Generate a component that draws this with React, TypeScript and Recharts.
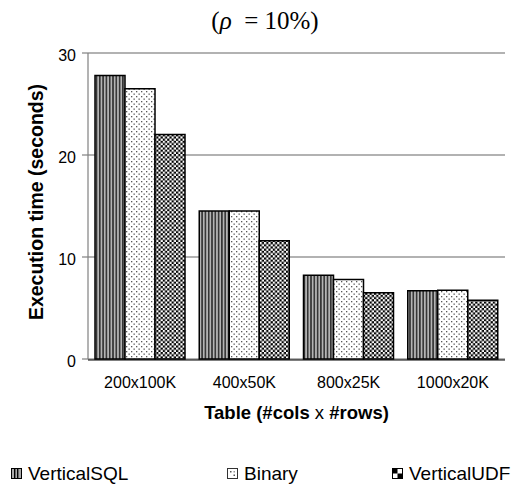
import React from 'react';
import { BarChart, Bar, XAxis, YAxis, CartesianGrid } from 'recharts';

const categories = ['200x100K', '400x50K', '800x25K', '1000x20K'];
const verticalSQL = [27.8, 14.5, 8.2, 6.7];
const binary = [26.5, 14.5, 7.8, 6.75];
const verticalUDF = [22.0, 11.6, 6.5, 5.75];
const yTicks = [0, 10, 20, 30];
const edgeTicks = [0, 1, 2, 3, 4];
const seriesNames = ['VerticalSQL', 'Binary', 'VerticalUDF'];

const data = categories.map((name, i) => ({
  name,
  edge: i,
  VerticalSQL: verticalSQL[i],
  Binary: binary[i],
  VerticalUDF: verticalUDF[i],
}));

const SANS = '"Liberation Sans", Arial, sans-serif';
const SERIF = '"Liberation Serif", "Times New Roman", serif';

const fills: Record<string, string> = {
  VerticalSQL: 'url(#pStripes)',
  Binary: 'url(#pDots)',
  VerticalUDF: 'url(#pChecker)',
};

const Patterns = ({ prefix }: { prefix: string }) => (
  <defs>
    <pattern id={`${prefix}Stripes`} patternUnits="userSpaceOnUse" width="3.3" height="10">
      <rect x="0" y="0" width="3.3" height="10" fill="#b4b4b4" />
      <rect x="0" y="0" width="1.6" height="10" fill="#333" />
    </pattern>
    <pattern id={`${prefix}Dots`} patternUnits="userSpaceOnUse" width="5" height="5">
      <rect x="0" y="0" width="5" height="5" fill="#fff" />
      <rect x="1" y="1" width="1.3" height="1.3" fill="#555" />
      <rect x="3.5" y="3.5" width="1.3" height="1.3" fill="#555" />
    </pattern>
    <pattern id={`${prefix}Checker`} patternUnits="userSpaceOnUse" width="4.4" height="4.4">
      <rect x="0" y="0" width="4.4" height="4.4" fill="#000" />
      <rect x="0" y="0" width="2.2" height="2.2" fill="#fff" />
      <rect x="2.2" y="2.2" width="2.2" height="2.2" fill="#fff" />
    </pattern>
  </defs>
);

const LegendIcon = ({ name }: { name: string }) => {
  if (name === 'VerticalSQL') {
    return (
      <svg width="11" height="11" style={{ display: 'block' }}>
        <rect x="0.5" y="0.5" width="10" height="10" fill="#aaa" stroke="#000" />
        <rect x="3" y="0.5" width="1.4" height="10" fill="#000" />
        <rect x="6" y="0.5" width="1.4" height="10" fill="#000" />
      </svg>
    );
  }
  if (name === 'Binary') {
    return (
      <svg width="11" height="11" style={{ display: 'block' }}>
        <rect x="0.5" y="0.5" width="10" height="10" fill="#fff" stroke="#333" />
        <rect x="3" y="3" width="1.5" height="1.5" fill="#555" />
        <rect x="6.5" y="6.5" width="1.5" height="1.5" fill="#555" />
        <rect x="6.5" y="3" width="1.5" height="1.5" fill="#999" />
      </svg>
    );
  }
  return (
    <svg width="11" height="11" style={{ display: 'block' }}>
      <rect x="0.5" y="0.5" width="10" height="10" fill="#fff" stroke="#000" />
      <rect x="0.5" y="0.5" width="5" height="5" fill="#000" />
      <rect x="5.5" y="5.5" width="5" height="5" fill="#000" />
    </svg>
  );
};

const legendLeft = [11, 227, 392];

const YLabel = (props: any) => {
  const vb = props.viewBox;
  const cx = vb.x + 36;
  const cy = vb.y + vb.height / 2 - 4;
  return (
    <text
      x={cx}
      y={cy}
      transform={`rotate(-90, ${cx}, ${cy})`}
      textAnchor="middle"
      dominantBaseline="central"
      fontFamily={SANS}
      fontWeight="bold"
      fontSize={19.5}
      fill="#000"
    >
      Execution time (seconds)
    </text>
  );
};

const XLabel = (props: any) => {
  const vb = props.viewBox;
  const cx = vb.x + vb.width / 2;
  const y = vb.y + 60;
  return (
    <text x={cx} y={y} textAnchor="middle" fontFamily={SANS} fontSize={18.5} fill="#000">
      <tspan fontWeight="bold">Table (#cols </tspan>
      <tspan>x</tspan>
      <tspan fontWeight="bold"> #rows)</tspan>
    </text>
  );
};

export default function App() {
  return (
    <div
      style={{
        position: 'relative',
        width: 519,
        height: 489,
        marginLeft: -8,
        marginTop: -8,
        background: '#fff',
        fontFamily: SANS,
      }}
    >
      <div
        style={{
          position: 'absolute',
          top: 6,
          left: 265,
          transform: 'translateX(-50%)',
          fontFamily: SERIF,
          fontSize: 25,
          whiteSpace: 'pre',
          lineHeight: '30px',
          color: '#000',
        }}
      >
        (<i>ρ</i>  = 10%)
      </div>
      <BarChart
        width={519}
        height={489}
        data={data}
        margin={{ top: 53, right: 14, bottom: 128, left: 0 }}
        barSize={30}
        barGap={0}
      >
        <Patterns prefix="p" />
        <CartesianGrid vertical={false} stroke="#666" strokeWidth={1.2} xAxisId="cat" yAxisId="l" />
        <XAxis
          xAxisId="edge"
          dataKey="edge"
          type="number"
          domain={[0, 4]}
          ticks={edgeTicks}
          tick={false}
          tickSize={6}
          height={1}
          axisLine={{ stroke: '#000', strokeWidth: 1.2 }}
          tickLine={{ stroke: '#000', strokeWidth: 1.2 }}
          allowDataOverflow
        />
        <XAxis
          xAxisId="cat"
          dataKey="name"
          height={1}
          interval={0}
          tickLine={false}
          axisLine={false}
          tickSize={0}
          tickMargin={18}
          tick={{ fontSize: 16, fill: '#000', fontFamily: SANS }}
          label={<XLabel />}
        />
        <YAxis
          yAxisId="l"
          width={88}
          domain={[0, 30]}
          ticks={yTicks}
          tickSize={6}
          tickMargin={6}
          axisLine={{ stroke: '#808080', strokeWidth: 1.2 }}
          tickLine={{ stroke: '#808080', strokeWidth: 1.2 }}
          tick={{ fontSize: 16, fill: '#000', fontFamily: SANS, dy: 2 }}
          label={<YLabel />}
        />
        <YAxis
          yAxisId="r"
          orientation="right"
          width={0}
          domain={[0, 30]}
          tick={false}
          tickLine={false}
          axisLine={{ stroke: '#888', strokeWidth: 1.5 }}
        />
        {seriesNames.map((s) => (
          <Bar
            key={s}
            dataKey={s}
            xAxisId="cat"
            yAxisId="l"
            fill={fills[s]}
            stroke="#000"
            strokeWidth={1.5}
            isAnimationActive={false}
          />
        ))}
      </BarChart>
      {seriesNames.map((s, i) => (
        <div
          key={s}
          style={{
            position: 'absolute',
            top: 464,
            left: legendLeft[i],
            display: 'flex',
            alignItems: 'center',
            fontSize: 19,
            lineHeight: '19px',
            color: '#000',
          }}
        >
          <LegendIcon name={s} />
          <span style={{ marginLeft: 6 }}>{s}</span>
        </div>
      ))}
    </div>
  );
}
